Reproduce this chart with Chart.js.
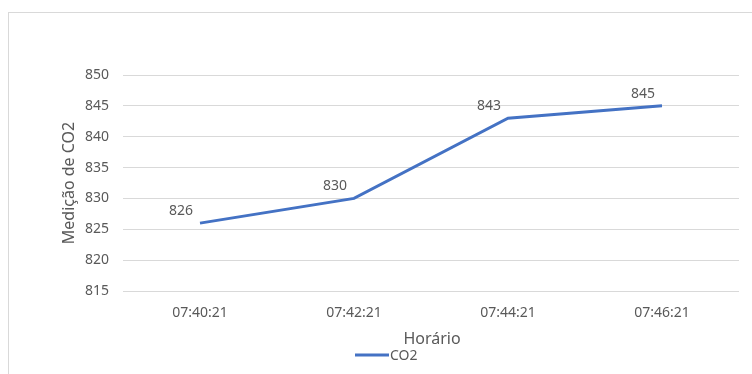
<!DOCTYPE html>
<html>
<head>
<meta charset="utf-8">
<script src="https://cdn.jsdelivr.net/npm/chart.js@4/dist/chart.umd.min.js"></script>
<style>
    body { margin: 0; background: #fff; }
    #wrap { position: relative; width: 752px; height: 374px; overflow: hidden; }
    #frame { position: absolute; left: 8px; top: 12px; width: 800px; height: 400px; border: 1px solid #d9d9d9; }
    canvas { position: absolute; left: 0; top: 0; }
</style>
</head>
<body>
<div id="wrap">
    <div id="frame"></div>
    <canvas id="myLineChart" width="752" height="374"></canvas>
</div>
<script>
const horarios = ['07:40:21', '07:42:21', '07:44:21', '07:46:21'];
const co2 = [826, 830, 843, 845];
const yTicks = [815, 820, 825, 830, 835, 840, 845, 850];

const textColor = '#595959';
const lineColor = '#4472C4';
const fontFamily = '"Noto Sans", "Open Sans", sans-serif';

// rótulos, títulos dos eixos e legenda
const extras = {
    id: 'extras',
    afterDatasetsDraw(chart) {
        const ctx = chart.ctx;
        const meta = chart.getDatasetMeta(0);
        ctx.save();
        ctx.fillStyle = textColor;
        ctx.font = '14px ' + fontFamily;
        ctx.textAlign = 'center';
        ctx.textBaseline = 'middle';
        meta.data.forEach((pt, i) => {
            ctx.fillText(String(co2[i]), pt.x - 19, pt.y - 12);
        });

        const area = chart.chartArea;
        // titulo eixo y
        ctx.font = '16px ' + fontFamily;
        ctx.save();
        ctx.translate(69, (area.top + area.bottom) / 2);
        ctx.rotate(-Math.PI / 2);
        ctx.fillText('Medição de CO2', 0, 0);
        ctx.restore();
        // titulo eixo x
        ctx.fillText('Horário', 432, 339);

        // legenda
        ctx.strokeStyle = lineColor;
        ctx.lineWidth = 3;
        ctx.beginPath();
        ctx.moveTo(355, 355);
        ctx.lineTo(389, 355);
        ctx.stroke();
        ctx.font = '14px ' + fontFamily;
        ctx.textAlign = 'left';
        ctx.fillText(chart.data.datasets[0].label, 390, 356);
        ctx.restore();
    }
};

const ctx = document.getElementById('myLineChart').getContext('2d');
const myLineChart = new Chart(ctx, {
    type: 'line',
    data: {
        labels: horarios,
        datasets: [{
            label: 'CO2',
            data: co2,
            borderColor: lineColor,
            borderWidth: 3,
            pointRadius: 0,
            tension: 0,
            fill: false
        }]
    },
    options: {
        responsive: false,
        animation: false,
        layout: { padding: { top: 75, right: 13, left: 0, bottom: 0 } },
        plugins: {
            legend: { display: false },
            tooltip: { enabled: false }
        },
        scales: {
            x: {
                offset: true,
                grid: { display: false, drawTicks: false },
                border: { display: false },
                ticks: {
                    color: textColor,
                    font: { size: 14, family: fontFamily },
                    padding: 14,
                    maxRotation: 0
                },
                afterFit(scale) { scale.height = 83; }
            },
            y: {
                min: 815,
                max: 850,
                afterBuildTicks(scale) { scale.ticks = yTicks.map(v => ({ value: v })); },
                grid: { color: '#d9d9d9', lineWidth: 1, drawTicks: false },
                border: { display: false },
                ticks: {
                    color: textColor,
                    font: { size: 14, family: fontFamily },
                    padding: 14
                },
                afterFit(scale) { scale.width = 123; }
            }
        }
    },
    plugins: [extras]
});
</script>
</body>
</html>
